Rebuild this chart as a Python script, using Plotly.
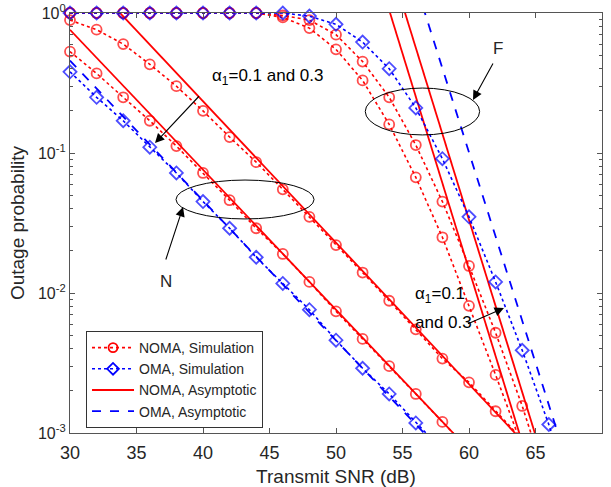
import plotly.graph_objects as go

# ---------------- data ----------------
snr_near_oma = [30, 32, 34, 36, 38, 40, 42, 44, 46, 48, 50, 52, 54, 56, 58]
oma_near_sim = [0.38, 0.25, 0.17, 0.11, 0.072, 0.045, 0.029, 0.018, 0.0117, 0.0076,
                0.0046, 0.0029, 0.0019, 0.00118, 0.00075]

snr_near_noma_a = [30, 32, 34, 36, 38, 40, 42, 44, 46, 48, 50, 52, 54, 56, 58, 60]
noma_near_sim_a = [0.53, 0.37, 0.25, 0.17, 0.112, 0.072, 0.046, 0.029, 0.019, 0.012,
                   0.0074, 0.0047, 0.003, 0.0019, 0.0012, 0.00076]

snr_near_noma_b = [30, 32, 34, 36, 38, 40, 42, 44, 46, 48, 50, 52, 54, 56, 58, 60, 62, 64]
noma_near_sim_b = [0.89, 0.76, 0.6, 0.43, 0.30, 0.2, 0.13, 0.086, 0.055, 0.035,
                   0.022, 0.014, 0.0088, 0.0055, 0.0034, 0.0023, 0.00143, 0.0009]

snr_far_oma = [30, 32, 34, 36, 38, 40, 42, 44, 46, 48, 50, 52, 54, 56, 58, 60, 62, 64, 66, 68]
oma_far_sim = [1, 1, 1, 1, 1, 1, 1, 1, 1, 0.95, 0.83, 0.62, 0.40, 0.21, 0.091,
               0.035, 0.012, 0.0039, 0.00115, 0.0003]

snr_far_noma_b = [30, 32, 34, 36, 38, 40, 42, 44, 46, 48, 50, 52, 54, 56, 58, 60, 62, 64, 66]
noma_far_sim_b = [1, 1, 1, 1, 1, 1, 1, 1, 0.96, 0.89, 0.70, 0.45, 0.25, 0.114, 0.045,
                  0.0156, 0.0052, 0.00156, 0.0004]

snr_far_noma_a = [30, 32, 34, 36, 38, 40, 42, 44, 46, 48, 50, 52, 54, 56, 58, 60, 62, 64]
noma_far_sim_a = [1, 1, 1, 1, 1, 1, 1, 1, 0.93, 0.78, 0.55, 0.33, 0.16, 0.067, 0.025,
                  0.0081, 0.0026, 0.0008]

snr_near_asym = [30, 40, 50, 60, 70]
oma_near_asym = [0.457, 0.0459, 0.00461, 0.000463, 4.6e-5]
noma_near_asym_a = [0.759, 0.0759, 0.0076, 0.00076, 7.6e-5]
noma_near_asym_b = [2.4, 0.234, 0.0229, 0.00224, 0.000218]

snr_far_asym = [50, 55, 60, 65, 70]
noma_far_asym_a = [18.0, 0.51, 0.0146, 0.00042, 1.2e-5]
noma_far_asym_b = [39.5, 1.15, 0.0336, 0.00098, 2.8e-5]
oma_far_asym = [102.0, 3.24, 0.102, 0.0032, 1.0e-4]

x_ticks = [30, 35, 40, 45, 50, 55, 60, 65, 70]
y_ticks = [1e-3, 1e-2, 1e-1, 1]
y_ticktext = ["10<sup>-3</sup>", "10<sup>-2</sup>", "10<sup>-1</sup>", "10<sup>0</sup>"]

legend_names = ["NOMA, Simulation", "OMA, Simulation", "NOMA, Asymptotic", "OMA, Asymptotic"]

# ---------------- styling ----------------
RED = "#FF0000"
BLUE = "#0000FF"
FONT = "Liberation Sans, Arial, sans-serif"
YMIN = 1e-3

fig = go.Figure()


def sim_trace(x, y, color, symbol):
    sizes = [10 if v >= YMIN else 0 for v in y]
    return go.Scatter(
        x=x, y=y, mode="lines+markers", showlegend=False, cliponaxis=False,
        line=dict(color=color, width=1.6, dash="dot"),
        marker=dict(symbol=symbol, size=sizes, color=color,
                    line=dict(color=color, width=1.8)),
    )


def asym_trace(x, y, color, dash):
    return go.Scatter(x=x, y=y, mode="lines", showlegend=False,
                      line=dict(color=color, width=1.8, dash=dash))


# NOMA simulations
for xs, ys in [(snr_near_noma_a, noma_near_sim_a), (snr_near_noma_b, noma_near_sim_b),
               (snr_far_noma_a, noma_far_sim_a), (snr_far_noma_b, noma_far_sim_b)]:
    fig.add_trace(sim_trace(xs, ys, RED, "circle-open"))

# NOMA asymptotic
for xs, ys in [(snr_near_asym, noma_near_asym_a), (snr_near_asym, noma_near_asym_b),
               (snr_far_asym, noma_far_asym_a), (snr_far_asym, noma_far_asym_b)]:
    fig.add_trace(asym_trace(xs, ys, RED, "solid"))

# OMA asymptotic
for xs, ys in [(snr_near_asym, oma_near_asym), (snr_far_asym, oma_far_asym)]:
    fig.add_trace(asym_trace(xs, ys, BLUE, "dash"))

# OMA simulations
for xs, ys in [(snr_near_oma, oma_near_sim), (snr_far_oma, oma_far_sim)]:
    fig.add_trace(sim_trace(xs, ys, BLUE, "diamond-open"))

# legend entries
fig.add_trace(go.Scatter(x=[None], y=[None], mode="lines+markers", name=legend_names[0],
                         line=dict(color=RED, width=1.6, dash="dot"),
                         marker=dict(symbol="circle-open", size=9, color=RED,
                                     line=dict(color=RED, width=1.8))))
fig.add_trace(go.Scatter(x=[None], y=[None], mode="lines+markers", name=legend_names[1],
                         line=dict(color=BLUE, width=1.6, dash="dot"),
                         marker=dict(symbol="diamond-open", size=9, color=BLUE,
                                     line=dict(color=BLUE, width=1.8))))
fig.add_trace(go.Scatter(x=[None], y=[None], mode="lines", name=legend_names[2],
                         line=dict(color=RED, width=1.8)))
fig.add_trace(go.Scatter(x=[None], y=[None], mode="lines", name=legend_names[3],
                         line=dict(color=BLUE, width=1.8, dash="dash")))

# ellipses
fig.add_shape(type="circle", xref="x", yref="y", x0=37.97, x1=48.35, y0=0.0338, y1=0.0641,
              line=dict(color="black", width=1))
fig.add_shape(type="circle", xref="x", yref="y", x0=52.2, x1=60.8, y0=0.1346, y1=0.291,
              line=dict(color="black", width=1))

afont = dict(family=FONT, size=17, color="black")
# arrows (annotation y values are log10 on log axis)
arrows = [
    (36.39, -0.929, 47, -50),
    (38.5, -1.386, -20, 61),
    (60.3, -0.621, 23, -42),
    (62.63, -2.107, -39, 17),
]
for x, ly, ax, ay in arrows:
    fig.add_annotation(x=x, y=ly, xref="x", yref="y", ax=ax, ay=ay, axref="pixel", ayref="pixel",
                       showarrow=True, arrowhead=2, arrowsize=1.7, arrowwidth=1.1,
                       arrowcolor="black", text=" ")

fig.add_annotation(x=40.5, y=-0.457, xref="x", yref="y", showarrow=False, xanchor="left",
                   text="α<sub>1</sub>=0.1 and 0.3", font=afont)
fig.add_annotation(x=37.22, y=-1.921, xref="x", yref="y", showarrow=False,
                   text="N", font=dict(family=FONT, size=17, color="#262626"))
fig.add_annotation(x=62.18, y=-0.25, xref="x", yref="y", showarrow=False,
                   text="F", font=dict(family=FONT, size=17, color="#262626"))
fig.add_annotation(x=55.79, y=-2.014, xref="x", yref="y", showarrow=False, xanchor="left",
                   text="α<sub>1</sub>=0.1", font=afont)
fig.add_annotation(x=55.79, y=-2.214, xref="x", yref="y", showarrow=False, xanchor="left",
                   text="and 0.3", font=afont)

AXC = "#555555"
fig.update_layout(
    width=611, height=487,
    margin=dict(l=70, r=9, t=13, b=54),
    paper_bgcolor="white", plot_bgcolor="white",
    font=dict(family=FONT, color="#262626"),
    showlegend=True,
    legend=dict(x=0.0301, y=0.2429, xanchor="left", yanchor="top",
                bgcolor="white", bordercolor="#333333", borderwidth=1,
                font=dict(family=FONT, size=14, color="#262626"),
                itemwidth=42, tracegroupgap=0),
    xaxis=dict(range=[30, 70], tickvals=x_ticks, ticks="inside", ticklen=5,
               automargin=False,
               showline=True, linecolor=AXC, linewidth=1.2, mirror="ticks",
               tickcolor=AXC, showgrid=False, zeroline=False,
               tickfont=dict(family=FONT, size=18, color="#262626"),
               ticklabelstandoff=3,
               title=dict(text="Transmit SNR (dB)", standoff=8,
                          font=dict(family=FONT, size=19, color="#262626"))),
    yaxis=dict(type="log", range=[-3, 0], tickvals=y_ticks, ticktext=y_ticktext,
               automargin=False,
               ticks="inside", ticklen=5, showline=True, linecolor=AXC, linewidth=1.2,
               mirror="ticks", tickcolor=AXC, showgrid=False, zeroline=False,
               tickfont=dict(family=FONT, size=16, color="#262626"),
               minor=dict(ticks="inside", ticklen=3, tickcolor=AXC,
                          tickvals=[m * 10.0 ** e for e in (-3, -2, -1) for m in range(2, 10)],
                          showgrid=False),
               title=dict(text="Outage probability", standoff=8,
                          font=dict(family=FONT, size=19, color="#262626"))),
)

fig.write_html("out.html")
